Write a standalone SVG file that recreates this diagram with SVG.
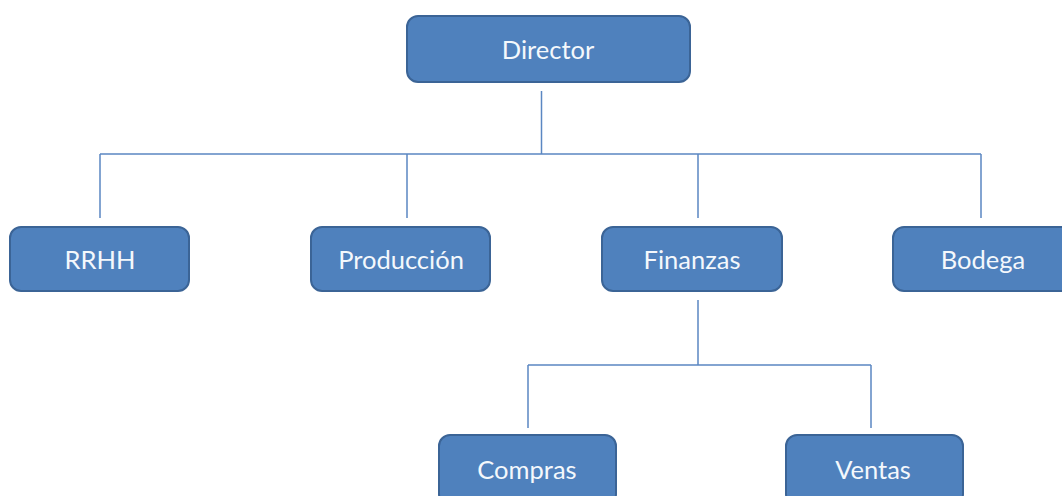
<svg xmlns="http://www.w3.org/2000/svg" width="1062" height="496" viewBox="0 0 1062 496">
<style>
.box{fill:#4F81BD;stroke:#3B6496;stroke-width:2}
.lbl{font-family:Lato,"Liberation Sans",sans-serif;font-size:25.5px;fill:#f4f8fc;text-anchor:middle}
.ln{stroke:#5B87C2;stroke-width:1.5;fill:none}
</style>
<rect width="1062" height="496" fill="#ffffff"/>
<g id="connectors">
<path class="ln" d="M541.5,91 V154 M100,154 H981 M100,154 V218 M407,154 V218 M698,154 V218 M981,154 V218"/>
<path class="ln" d="M698,300 V365 M528,365 H871 M528,365 V428 M871,365 V428"/>
</g>
<g id="director"><rect class="box" x="407" y="16" width="283" height="66" rx="11"/><text class="lbl" x="548" y="59">Director</text></g>
<g id="rrhh"><rect class="box" x="10" y="227" width="179" height="64" rx="11"/><text class="lbl" x="100" y="269">RRHH</text></g>
<g id="produccion"><rect class="box" x="311" y="227" width="179" height="64" rx="11"/><text class="lbl" x="401" y="269">Producción</text></g>
<g id="finanzas"><rect class="box" x="602" y="227" width="180" height="64" rx="11"/><text class="lbl" x="692" y="269">Finanzas</text></g>
<g id="bodega"><rect class="box" x="893" y="227" width="179" height="64" rx="11"/><text class="lbl" x="983" y="269">Bodega</text></g>
<g id="compras"><rect class="box" x="439" y="435" width="177" height="70" rx="11"/><text class="lbl" x="527" y="479">Compras</text></g>
<g id="ventas"><rect class="box" x="786" y="435" width="177" height="70" rx="11"/><text class="lbl" x="873" y="479">Ventas</text></g>
</svg>
